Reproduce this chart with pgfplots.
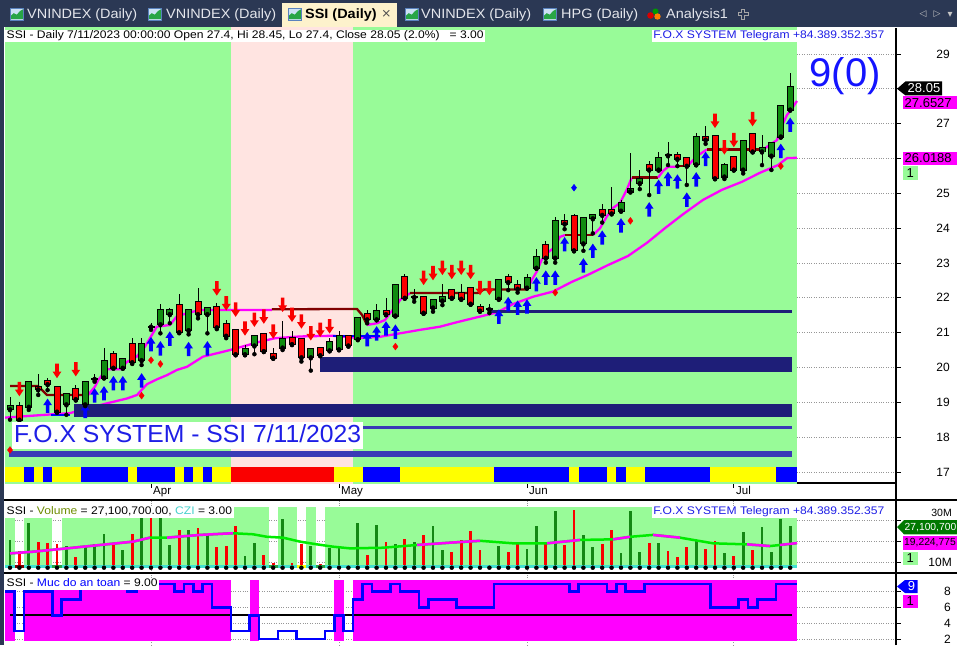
\documentclass[border=0pt]{standalone}
\usepackage{pgfplots}
\pgfplotsset{compat=1.18}
\usepackage{pgfplotstable}
\usepackage{fontspec}
\setmainfont{Liberation Sans}
\newfontfamily\fch[FakeStretch=1.1]{Liberation Sans}
\newfontfamily\ftab[FakeStretch=1.07]{Liberation Sans}
\newfontfamily\fsym{DejaVu Sans}

\definecolor{tabbg}{RGB}{43,56,84}
\definecolor{tabact}{RGB}{253,242,204}
\definecolor{tabtxt}{RGB}{228,230,236}
\definecolor{pgreen}{RGB}{152,251,152}
\definecolor{ppink}{RGB}{255,228,225}
\definecolor{navyb}{RGB}{30,30,120}
\definecolor{blueb}{RGB}{58,58,182}
\definecolor{cgreen}{RGB}{16,140,16}
\definecolor{cred}{RGB}{250,0,0}
\definecolor{maroonl}{RGB}{128,0,0}
\definecolor{mag}{RGB}{255,0,255}
\definecolor{ribY}{RGB}{255,255,0}
\definecolor{ribB}{RGB}{0,0,255}
\definecolor{ablue}{RGB}{0,0,255}
\definecolor{txtblue}{RGB}{30,30,230}
\definecolor{bigblue}{RGB}{20,20,255}
\definecolor{turq}{RGB}{64,224,208}
\definecolor{malime}{RGB}{0,235,0}
\definecolor{volcol}{RGB}{110,140,0}
\definecolor{czicol}{RGB}{72,209,204}
\definecolor{vgreen}{RGB}{20,135,20}
\definecolor{tagg}{RGB}{0,120,0}
\definecolor{gridc}{RGB}{150,150,150}
\definecolor{iconbg}{RGB}{205,225,245}
\definecolor{iconfr}{RGB}{90,130,190}
\definecolor{icongr}{RGB}{40,165,70}

\pgfdeclareplotmark{uarr}{%
  \pgfpathmoveto{\pgfqpoint{0pt}{7.2pt}}%
  \pgfpathlineto{\pgfqpoint{4.4pt}{0.6pt}}%
  \pgfpathlineto{\pgfqpoint{1.8pt}{0.6pt}}%
  \pgfpathlineto{\pgfqpoint{1.8pt}{-7.2pt}}%
  \pgfpathlineto{\pgfqpoint{-1.8pt}{-7.2pt}}%
  \pgfpathlineto{\pgfqpoint{-1.8pt}{0.6pt}}%
  \pgfpathlineto{\pgfqpoint{-4.4pt}{0.6pt}}%
  \pgfpathclose\pgfusepathqfill}
\pgfdeclareplotmark{darr}{%
  \pgfpathmoveto{\pgfqpoint{0pt}{-7.2pt}}%
  \pgfpathlineto{\pgfqpoint{4.4pt}{-0.6pt}}%
  \pgfpathlineto{\pgfqpoint{1.8pt}{-0.6pt}}%
  \pgfpathlineto{\pgfqpoint{1.8pt}{7.2pt}}%
  \pgfpathlineto{\pgfqpoint{-1.8pt}{7.2pt}}%
  \pgfpathlineto{\pgfqpoint{-1.8pt}{-0.6pt}}%
  \pgfpathlineto{\pgfqpoint{-4.4pt}{-0.6pt}}%
  \pgfpathclose\pgfusepathqfill}

% ---------- data ----------
\pgfplotstableread{
i O H L C
0 18.80 19.15 18.50 18.90
2 18.87 19.60 18.78 19.57
6 18.94 19.25 18.64 19.23
8 18.94 19.60 18.89 19.57
9 19.67 19.81 19.59 19.67
10 19.71 20.55 19.70 20.19
12 19.99 20.25 19.97 20.23
14 20.21 20.84 20.07 20.67
15 21.17 21.27 21.08 21.17
16 21.24 21.82 20.98 21.64
17 21.53 21.70 21.27 21.64
19 21.07 21.65 20.95 21.64
21 21.53 21.75 20.98 21.72
25 20.38 20.65 20.35 20.53
26 20.63 20.93 20.38 20.91
29 20.57 21.33 20.50 20.81
32 20.29 20.55 19.91 20.52
34 20.49 20.84 20.47 20.72
35 20.52 21.05 20.50 20.91
37 20.81 21.45 20.80 21.43
39 21.38 21.81 21.36 21.63
41 21.49 22.38 21.47 22.36
43 22.02 22.25 21.89 22.02
45 21.72 21.95 21.60 21.94
46 21.92 22.40 21.79 22.02
51 21.67 21.82 21.56 21.67
52 21.97 22.54 21.95 22.50
55 22.29 22.68 22.27 22.56
56 22.86 23.40 22.84 23.16
58 23.15 24.32 23.01 24.21
61 23.56 24.30 23.35 24.28
62 24.28 24.40 23.85 24.37
65 24.50 24.81 24.48 24.71
66 25.05 26.16 25.05 25.12
67 25.29 25.67 25.12 25.41
69 25.68 26.18 25.66 26.01
70 26.09 26.48 25.81 26.09
73 25.83 26.72 25.81 26.61
76 25.48 25.86 25.41 25.81
78 25.68 26.52 25.57 26.50
80 26.20 26.67 25.81 26.29
81 26.08 26.46 25.67 26.44
82 26.63 27.52 26.60 27.50
83 27.40 28.45 27.40 28.05
}\upc
\pgfplotstableread{
i O H L C
1 18.90 19.00 18.40 18.50
3 19.45 19.81 19.21 19.37
4 19.61 19.71 19.35 19.52
5 19.43 19.45 18.70 18.73
7 19.37 19.50 19.05 19.09
11 20.38 20.47 19.98 19.99
13 20.67 20.84 20.10 20.15
18 21.79 22.10 21.00 21.01
20 21.87 22.27 21.41 21.53
22 21.73 21.84 21.10 21.15
23 21.24 21.36 20.84 20.91
24 21.08 21.10 20.35 20.38
27 20.95 21.00 20.45 20.47
28 20.38 20.55 20.25 20.28
30 20.85 21.05 20.65 20.67
31 20.81 20.83 20.17 20.29
33 20.57 20.60 20.33 20.35
36 20.91 20.93 20.60 20.63
38 21.53 21.65 21.27 21.38
40 21.63 22.00 21.50 21.53
42 22.59 22.68 21.98 22.00
44 22.02 22.05 21.54 21.57
47 22.22 22.25 21.98 22.00
48 22.14 22.40 21.95 21.97
49 22.28 22.30 21.80 21.83
50 21.74 21.81 21.60 21.63
53 22.59 22.68 22.22 22.45
54 22.36 22.51 22.15 22.26
57 23.51 23.63 23.01 23.15
59 24.21 24.41 23.97 24.13
60 24.34 24.41 23.35 23.36
63 24.52 24.69 24.16 24.38
64 24.51 25.19 24.41 24.42
68 25.81 25.93 24.95 25.68
71 26.10 26.19 25.78 25.99
72 26.01 26.03 25.24 25.79
74 26.61 26.93 26.42 26.54
75 26.64 26.66 25.41 25.43
77 26.04 26.07 25.66 25.68
79 26.69 26.71 26.18 26.20
}\dnc
\pgfplotstableread{
x y
-0.53 18.56
3.72 18.64
6.38 18.69
10.32 18.97
12.45 19.11
13.51 19.21
14.57 19.52
15.64 19.66
16.70 19.78
17.77 19.93
18.83 20.02
20.53 20.31
21.60 20.38
23.40 20.50
25.00 20.62
26.60 20.74
28.19 20.84
30.85 20.89
34.36 20.91
36.91 20.85
39.36 20.88
41.49 20.98
43.62 21.08
45.74 21.17
47.55 21.30
49.68 21.44
51.81 21.58
53.51 21.82
55.64 22.03
57.77 22.18
59.79 22.46
61.49 22.66
63.62 22.94
65.74 23.20
67.77 23.58
69.68 24.00
71.60 24.40
73.72 24.81
75.74 25.10
77.87 25.33
79.79 25.59
81.70 25.81
82.66 26.01
83.72 26.02
}\lowline
\pgfplotstableread{
i p
4 18.90
8 18.75
9 19.20
10 19.26
11 19.55
12 19.55
14 19.63
15 20.67
16 20.55
17 20.83
19 20.53
21 20.55
38 20.81
39 20.98
40 21.12
41 21.03
52 21.46
53 21.82
54 21.72
55 21.75
56 22.39
57 22.58
58 22.58
59 23.54
61 22.93
62 23.35
63 23.73
65 24.08
68 24.54
69 25.19
70 25.41
71 25.34
72 24.82
73 25.40
74 25.99
82 26.22
83 26.97
}\uparr
\pgfplotstableread{
i p
1 19.38
5 19.90
7 19.95
22 22.27
23 21.84
24 21.66
25 21.12
26 21.37
27 21.46
28 21.03
29 21.80
30 21.51
31 21.32
32 20.98
33 21.08
34 21.18
44 22.57
45 22.71
46 22.86
47 22.74
48 22.86
49 22.74
50 22.28
51 22.28
75 27.08
76 26.32
77 26.53
79 27.13
}\dnarr
\pgfplotstableread{
i p
0 17.63
14 19.19
15 20.21
16 20.10
41 20.60
58 22.15
66 24.21
82 25.78
}\rdots
\pgfplotstableread{
i V
0 20.5
2 28.4
6 17.6
8 17.6
9 18.4
10 23.2
12 15.7
14 31.6
16 30.8
17 18.1
19 25.2
21 23.2
25 12.9
26 18.9
29 30.5
32 17.6
34 16.8
35 17.3
37 28.7
39 27.6
41 18.4
43 19.7
45 27.1
46 15.7
52 17.6
55 16.2
56 27.1
58 34.3
61 22.9
62 17.0
65 14.1
66 34.3
67 14.6
69 18.9
73 20.5
76 14.1
78 24.4
80 26.5
81 14.6
82 30.5
83 27.1
}\volg
\pgfplotstableread{
i V
1 15.2
3 19.4
4 18.9
5 18.4
7 12.2
11 18.9
13 23.2
15 31.6
18 25.2
20 26.0
22 17.0
23 17.6
24 27.1
27 13.3
28 9.4
30 9.4
31 18.4
33 9.0
36 8.6
38 13.3
40 19.7
42 21.0
44 22.9
47 14.9
48 20.5
49 24.8
50 15.7
51 8.2
53 14.6
54 18.4
57 18.9
59 18.1
60 34.8
63 18.4
64 25.2
68 18.9
70 15.2
71 12.4
72 17.0
74 16.2
75 20.0
77 12.9
79 15.7
}\volr
\pgfplotstableread{
x y
0 14.1
2.45 14.9
6.06 16.5
9.57 18.1
13.09 19.7
14.89 21.6
16.70 21.6
20.21 22.9
23.72 23.7
25.85 23.2
27.34 22.0
29.04 21.6
30.85 19.7
32.66 18.4
34.36 17.3
36.17 16.5
39.68 16.8
43.30 18.1
46.81 19.2
50.00 20.1
53.51 18.9
57.13 18.9
60.64 20.5
64.15 20.8
65.96 22.0
68.40 22.9
71.28 21.6
74.79 18.9
78.40 18.4
80.85 17.6
81.91 18.1
83.72 19.0
}\volma
\pgfplotstableread{
x v
-0.5 8
0.5 3
1.5 8
4.5 5
5.5 7
7.5 9
12.5 8
13.5 9
17.5 8
18.5 9
19.5 8
20.5 9
21.5 6
23.5 3
25.5 5
26.5 2
28.5 3
30.5 2
33.5 3
34.5 5
35.5 3
36.5 7
37.5 9
38.5 8
40.5 9
41.5 8
43.5 6
44.5 7
47.5 6
51.5 9
59.5 8
60.5 9
63.5 8
64.5 9
65.5 8
67.5 9
74.5 6
77.5 7
78.5 6
79.5 7
81.5 9
83.7 9
}\safety

\newcommand{\rect}[5]{\addplot[draw=none,fill=#5,forget plot] coordinates {(#1,#3) (#2,#3) (#2,#4) (#1,#4)};}
\newcommand{\chicon}[1]{%
  \fill[iconbg] (#1,625) rectangle ++(13,12);
  \fill[icongr] (#1+0.8,625.8) -- ++(0,3.5) -- ++(3,2.5) -- ++(3,-1.5) -- ++(3,3.5) -- ++(3.4,2) -- ++(0,-10) -- cycle;
  \draw[iconfr, line width=0.8pt] (#1,625) rectangle ++(13,12);}

\pgfplotsset{
  panel/.style={scale only axis, width=891pt, xmin=-0.532, xmax=94.255,
    axis x line*=bottom, axis y line*=right,
    axis line style={-, line width=1.2pt, black},
    xtick={15,35,55,77}, xticklabels={}, yticklabels={},
    tick align=outside, major tick length=4.5pt,
    tick style={black, line width=0.8pt},
    xmajorgrids, ymajorgrids,
    major grid style={dotted, line width=0.9pt, gridc}},
  wick/.style={only marks, mark=none, forget plot, error bars/.cd, y dir=plus, y explicit, error mark=none, error bar style={black, line width=1pt}},
  bodyb/.style={only marks, mark=none, forget plot, error bars/.cd, y dir=plus, y explicit, error mark=none, error bar style={black, line width=7pt}},
  bodyc/.style={only marks, mark=none, forget plot, error bars/.cd, y dir=plus, y explicit, error mark=none, error bar style={#1, line width=5pt}},
  volb/.style={only marks, mark=none, forget plot, error bars/.cd, y dir=plus, y explicit, error mark=none, error bar style={#1, line width=2.8pt}},
}

\begin{document}
\begin{tikzpicture}[x=1pt,y=1pt]
\useasboundingbox (0,0) rectangle (957,645);
\fill[white] (0,0) rectangle (957,645);

% ================= MAIN PRICE PANEL =================
\begin{axis}[panel, at={(5pt,162pt)}, anchor=south west, height=455pt,
  ymin=16.683, ymax=29.746, ytick={17,18,...,29}]
% backgrounds
\rect{-0.6}{83.72}{16.6}{29.8}{pgreen}
\rect{23.5}{36.5}{16.6}{29.8}{ppink}
% ribbon
\rect{-0.53}{83.72}{16.713}{17.153}{ribY}
\rect{23.5}{34.5}{16.713}{17.153}{cred}
\rect{1.5}{2.5}{16.713}{17.153}{ribB}
\rect{3.5}{4.5}{16.713}{17.153}{ribB}
\rect{7.5}{12.5}{16.713}{17.153}{ribB}
\rect{13.5}{17.5}{16.713}{17.153}{ribB}
\rect{18.5}{19.5}{16.713}{17.153}{ribB}
\rect{20.5}{21.5}{16.713}{17.153}{ribB}
\rect{37.5}{41.5}{16.713}{17.153}{ribB}
\rect{51.5}{59.5}{16.713}{17.153}{ribB}
\rect{60.5}{63.5}{16.713}{17.153}{ribB}
\rect{64.5}{65.5}{16.713}{17.153}{ribB}
\rect{67.5}{74.5}{16.713}{17.153}{ribB}
\rect{81.5}{83.72}{16.713}{17.153}{ribB}
% trailing lines
\addplot[mag, line width=2.3pt, forget plot] table[x=x,y=y] {\lowline};
\addplot[ablue, line width=2.3pt, forget plot] coordinates {(4.4,18.63) (6.4,18.63)};
\addplot[ablue, line width=2.3pt, forget plot] coordinates {(34.36,20.91) (39.4,20.91)};
\addplot[maroonl, line width=2.3pt, forget plot] coordinates {(0,19.47) (2.98,19.47) (3.94,19.21) (8.30,19.21)};
\addplot[mag, line width=2.3pt, forget plot] coordinates {(8.30,19.21) (9.04,19.45) (9.39,19.64) (10.29,19.95) (11.70,19.95) (12.45,20.16) (13.48,20.31) (14.36,20.60) (14.89,20.84) (15.61,21.17) (17.02,21.22) (17.73,21.46) (18.83,21.56) (20.21,21.65) (27.87,21.65)};
\addplot[maroonl, line width=2.3pt, forget plot] coordinates {(27.87,21.67) (36.91,21.68) (37.45,21.51) (37.98,21.22)};
\addplot[mag, line width=2.3pt, forget plot] coordinates {(37.98,21.22) (39.04,21.27) (39.89,21.36) (40.43,21.56) (41.17,21.79) (41.49,21.94) (42.55,22.13)};
\addplot[maroonl, line width=2.3pt, forget plot] coordinates {(42.55,22.14) (49.79,22.14) (50.43,22.24) (55.0,22.24)};
\addplot[mag, line width=2.3pt, forget plot] coordinates {(55.0,22.24) (55.5,22.51) (56.03,22.75) (56.56,23.09) (57.10,23.28) (57.80,23.42) (58.51,23.75) (59.04,23.80)};
\addplot[maroonl, line width=2.3pt, forget plot] coordinates {(59.04,23.80) (62.02,23.80)};
\addplot[mag, line width=2.3pt, forget plot] coordinates {(62.02,23.80) (62.77,24.0) (63.48,24.33) (64.15,24.58) (64.89,24.72) (65.61,25.10) (66.14,25.45)};
\addplot[maroonl, line width=2.3pt, forget plot] coordinates {(66.14,25.45) (68.94,25.45)};
\addplot[mag, line width=2.3pt, forget plot] coordinates {(68.94,25.45) (69.47,25.64) (70.0,25.76) (71.06,25.76)};
\addplot[maroonl, line width=2.3pt, forget plot] coordinates {(71.06,25.78) (72.13,25.78)};
\addplot[mag, line width=2.3pt, forget plot] coordinates {(72.13,25.80) (73.09,26.07) (74.15,26.26)};
\addplot[maroonl, line width=2.3pt, forget plot] coordinates {(74.15,26.26) (80.11,26.26)};
\addplot[mag, line width=2.3pt, forget plot] coordinates {(80.11,26.26) (80.85,26.39) (81.6,26.53) (81.91,26.82) (82.66,27.25) (82.98,27.36) (83.72,27.65)};
% buy arrows
\addplot[only marks, mark=uarr, color=ablue, fill=ablue, forget plot] table[x=i,y=p] {\uparr};
% support bands
\rect{6.81}{83.2}{18.59}{18.95}{navyb}
\rect{32.98}{83.2}{19.88}{20.29}{navyb}
\addplot[navyb, line width=2.7pt, forget plot] coordinates {(50.96,21.61) (83.2,21.61)};
\addplot[blueb, line width=3pt, forget plot] coordinates {(6.81,18.28) (83.2,18.28)};
\addplot[blueb, line width=5.5pt, forget plot] coordinates {(-0.1,17.52) (83.2,17.52)};
% candles
\addplot[wick] table[x=i, y=L, y error expr=\thisrow{H}-\thisrow{L}] {\upc};
\addplot[wick] table[x=i, y=L, y error expr=\thisrow{H}-\thisrow{L}] {\dnc};
\addplot[bodyb] table[x=i, y expr=\thisrow{O}-0.028, y error expr=\thisrow{C}-\thisrow{O}+0.056] {\upc};
\addplot[bodyc=cgreen] table[x=i, y=O, y error expr=\thisrow{C}-\thisrow{O}] {\upc};
\addplot[bodyb] table[x=i, y expr=\thisrow{C}-0.028, y error expr=\thisrow{O}-\thisrow{C}+0.056] {\dnc};
\addplot[bodyc=cred] table[x=i, y=C, y error expr=\thisrow{O}-\thisrow{C}] {\dnc};
% sell arrows and dots
\addplot[only marks, mark=darr, color=cred, fill=cred, forget plot] table[x=i,y=p] {\dnarr};
\addplot[only marks, mark=diamond*, mark size=3.4pt, color=cred, forget plot] table[x=i,y=p] {\rdots};
\addplot[only marks, mark=diamond*, mark size=3.4pt, color=ablue, forget plot] coordinates {(60,25.16)};
\end{axis}

% ================= VOLUME PANEL =================
\begin{axis}[panel, at={(5pt,72pt)}, anchor=south west, height=73pt,
  ymin=4.762, ymax=39.524, ytick={10,20,30},
  x axis line style={draw=none}, xtick style={draw=none}]
\rect{-0.6}{0.5}{7.29}{36.33}{pgreen}
\rect{1.5}{4.5}{7.29}{36.33}{pgreen}
\rect{5.5}{27.5}{7.29}{36.33}{pgreen}
\rect{28.5}{30.5}{7.29}{36.33}{pgreen}
\rect{31.5}{32.5}{7.29}{36.33}{pgreen}
\rect{33.5}{83.72}{7.29}{36.33}{pgreen}
\addplot[volb=vgreen] table[x=i, y expr=7.29, y error expr=\thisrow{V}-7.29] {\volg};
\addplot[volb=cred] table[x=i, y expr=7.29, y error expr=\thisrow{V}-7.29] {\volr};
\rect{-0.53}{83.72}{7.29}{8.71}{turq}
\rect{0.5}{1.5}{7.29}{8.71}{maroonl}
\rect{4.5}{5.5}{7.29}{8.71}{icongr}
\rect{27.5}{28.5}{7.29}{8.71}{icongr}
\rect{30.5}{31.5}{7.29}{8.71}{ribY}
\rect{32.5}{33.5}{7.29}{8.71}{icongr}
\addplot[malime, line width=2.5pt, forget plot] table[x=x,y=y] {\volma};
\addplot[mag, line width=2.5pt, forget plot, restrict x to domain=0:14.89] table[x=x,y=y] {\volma};
\addplot[mag, line width=2.5pt, forget plot, restrict x to domain=16.7:23.72] table[x=x,y=y] {\volma};
\addplot[mag, line width=2.5pt, forget plot, restrict x to domain=43.3:50] table[x=x,y=y] {\volma};
\addplot[mag, line width=2.5pt, forget plot, restrict x to domain=57.13:60.64] table[x=x,y=y] {\volma};
\addplot[mag, line width=2.5pt, forget plot, restrict x to domain=64.15:65.96] table[x=x,y=y] {\volma};
\addplot[mag, line width=2.5pt, forget plot, restrict x to domain=68.4:71.28] table[x=x,y=y] {\volma};
\addplot[mag, line width=2.5pt, forget plot, restrict x to domain=78.4:80.85] table[x=x,y=y] {\volma};
\addplot[mag, line width=2.5pt, forget plot, restrict x to domain=81.91:83.72] table[x=x,y=y] {\volma};
\end{axis}

% ================= SAFETY PANEL =================
\begin{axis}[panel, at={(5pt,0pt)}, anchor=south west, height=72pt,
  ymin=1.239, ymax=10.376, ytick={2,4,6,8},
  x axis line style={draw=none}, xtick style={draw=none}]
\rect{-0.6}{0.5}{1.78}{9.49}{mag}
\rect{1.5}{23.5}{1.78}{9.49}{mag}
\rect{25.5}{26.5}{1.78}{9.49}{mag}
\rect{34.5}{35.5}{1.78}{9.49}{mag}
\rect{36.5}{83.72}{1.78}{9.49}{mag}
\addplot[black, line width=2pt, forget plot] coordinates {(0,5) (83.2,5)};
\addplot[const plot, ablue, line width=2.6pt, forget plot] table[x=x,y=v] {\safety};
\end{axis}

% ================= frame lines =================
\draw[black, line width=1.2pt] (4,145) -- (957,145);
\draw[black, line width=1.2pt] (4,72) -- (957,72);
\draw[black, line width=1.2pt] (896,0) -- (896,617);

% ================= tab bar =================
\fill[tabbg] (0,618) rectangle (957,645);
\fill[tabbg] (0,0) rectangle (4,618);
\fill[tabact] (282,618) rectangle (397,642);
\chicon{10}\chicon{148}\chicon{288}\chicon{405}\chicon{543}
\node[anchor=base west, inner sep=0, text=tabtxt, font=\ftab\fontsize{13.5}{15}\selectfont] at (27,626.7) {VNINDEX (Daily)};
\node[anchor=base west, inner sep=0, text=tabtxt, font=\ftab\fontsize{13.5}{15}\selectfont] at (166,626.7) {VNINDEX (Daily)};
\node[anchor=base west, inner sep=0, text=black, font=\ftab\bfseries\fontsize{13.5}{15}\selectfont] at (305,626.7) {SSI (Daily)};
\node[inner sep=0, text=black!70, font=\fsym\fontsize{12}{12}\selectfont] at (386.5,631) {×};
\node[anchor=base west, inner sep=0, text=tabtxt, font=\ftab\fontsize{13.5}{15}\selectfont] at (421,626.7) {VNINDEX (Daily)};
\node[anchor=base west, inner sep=0, text=tabtxt, font=\ftab\fontsize{13.5}{15}\selectfont] at (561,626.7) {HPG (Daily)};
\node[anchor=base west, inner sep=0, text=tabtxt, font=\ftab\fontsize{13.5}{15}\selectfont] at (666,626.7) {Analysis1};
\fill[red!85!black] (650.5,629.5) circle (3.3);
\fill[green!60!black] (655.5,633.5) circle (3);
\fill[orange] (657.5,628.5) circle (3.2);
\draw[gray!70, line width=0.7pt] (741.5,636) -- (744.5,636) -- (744.5,632.5) -- (748,632.5) -- (748,629.5) -- (744.5,629.5) -- (744.5,626) -- (741.5,626) -- (741.5,629.5) -- (738,629.5) -- (738,632.5) -- (741.5,632.5) -- cycle;
\node[inner sep=0, text=gray!45, font=\fsym\fontsize{9}{9}\selectfont] at (923,631) {◁};
\node[inner sep=0, text=gray!45, font=\fsym\fontsize{9}{9}\selectfont] at (937,631) {▷};
\node[inner sep=0, text=gray!45, font=\fsym\fontsize{10}{10}\selectfont] at (950,630) {▾};

% ================= texts =================
\node[anchor=west, fill=white, inner xsep=1.5pt, inner ysep=1pt, text height=8pt, text depth=2.5pt, font=\fch\fontsize{11}{13}\selectfont] at (5,609) {SSI - Daily 7/11/2023 00:00:00 Open 27.4, Hi 28.45, Lo 27.4, Close 28.05 (2.0\%)\ \ \ = 3.00};
\node[anchor=east, fill=white, text=txtblue, inner xsep=1.5pt, inner ysep=1pt, text height=8pt, text depth=2.5pt, font=\fch\fontsize{11}{13}\selectfont] at (886,609) {F.O.X SYSTEM Telegram +84.389.352.357};
\node[anchor=west, fill=white, inner xsep=1.5pt, inner ysep=1pt, text height=8pt, text depth=2.5pt, font=\fch\fontsize{11}{13}\selectfont] at (5,133) {SSI - \textcolor{volcol}{Volume} = 27,100,700.00, \textcolor{czicol}{CZI} = 3.00};
\node[anchor=east, fill=white, text=txtblue, inner xsep=1.5pt, inner ysep=1pt, text height=8pt, text depth=2.5pt, font=\fch\fontsize{11}{13}\selectfont] at (886,133) {F.O.X SYSTEM Telegram +84.389.352.357};
\node[anchor=west, fill=white, inner xsep=1.5pt, inner ysep=1pt, text height=8pt, text depth=2.5pt, font=\fch\fontsize{11}{13}\selectfont] at (5,61) {SSI - \textcolor{ablue}{Muc do an toan} = 9.00};

\node[anchor=base west, fill=white, text=txtblue, inner xsep=2pt, inner ysep=2.5pt, text height=18pt, text depth=4pt, font=\fontsize{24.7}{26}\selectfont] at (12,202.3) {F.O.X SYSTEM - SSI 7/11/2023};
\node[anchor=base west, inner sep=0, text=bigblue, font=\fontsize{40}{40}\selectfont] at (809.5,558.3) {9(0)};

% month labels
\foreach \xm/\lab in {153/Apr,341/May,529/Jun,736/Jul}{
  \node[anchor=base west, inner sep=0, font=\fontsize{11.5}{12}\selectfont] at (\xm,150.7) {\lab};}

% right tick labels (26, 28 and 20M sit under value tags in the original)
\foreach \p in {17,18,19,20,21,22,23,24,25,27,29}{\pgfmathsetmacro\yy{591-(29-\p)*34.83}
  \node[anchor=east, inner sep=0pt, font=\fontsize{12}{13}\selectfont] at (950,\yy) {\p};}
\node[anchor=east, inner sep=0pt, font=\fontsize{10.5}{11}\selectfont] at (952,132.5) {30M};
\node[anchor=east, inner sep=0pt, font=\fontsize{12}{13}\selectfont] at (952,83) {10M};
\foreach \v in {2,4,6,8}{\pgfmathsetmacro\yy{6+(\v-2)*7.88}
  \node[anchor=east, inner sep=0pt, font=\fontsize{12}{13}\selectfont] at (951,\yy) {\v};}

% value tags
\fill[black] (897,556.2) -- (905.5,563.6) -- (942,563.6) -- (942,549.5) -- (905.5,549.5) -- cycle;
\node[text=white, inner sep=0, font=\fontsize{13}{14}\selectfont] at (924,556.5) {28.05};
\fill[mag] (902.7,535.7) rectangle (957,549);
\node[anchor=west, inner sep=0, font=\fontsize{13}{14}\selectfont] at (904.5,542.3) {27.6527};
\fill[mag] (902.7,480) rectangle (957,493.3);
\node[anchor=west, inner sep=0, font=\fontsize{13}{14}\selectfont] at (904.5,486.7) {26.0188};
\fill[pgreen] (903,465) rectangle (917.7,479);
\node[inner sep=0, font=\fontsize{13}{14}\selectfont] at (910.3,472) {1};

\fill[tagg] (897,118) -- (904,125) -- (957,125) -- (957,110.7) -- (904,110.7) -- cycle;
\node[anchor=west, text=white, inner sep=0, font=\fontsize{10.3}{11}\selectfont] at (904.5,117.8) {27,100,700};
\fill[mag] (903,95) rectangle (957,109.3);
\node[anchor=west, inner sep=0, font=\fontsize{10.3}{11}\selectfont] at (904,102.1) {19,224,775};
\fill[pgreen] (903,80) rectangle (917.7,93.3);
\node[inner sep=0, font=\fontsize{13}{14}\selectfont] at (910.3,86.7) {1};

\fill[ablue] (897,58.5) -- (905,65) -- (917.7,65) -- (917.7,52) -- (905,52) -- cycle;
\node[text=white, inner sep=0, font=\fontsize{13}{14}\selectfont] at (911.5,58.5) {9};
\fill[mag] (903,37) rectangle (917.7,50);
\node[inner sep=0, font=\fontsize{13}{14}\selectfont] at (910.3,43.5) {1};
\end{tikzpicture}
\end{document}
